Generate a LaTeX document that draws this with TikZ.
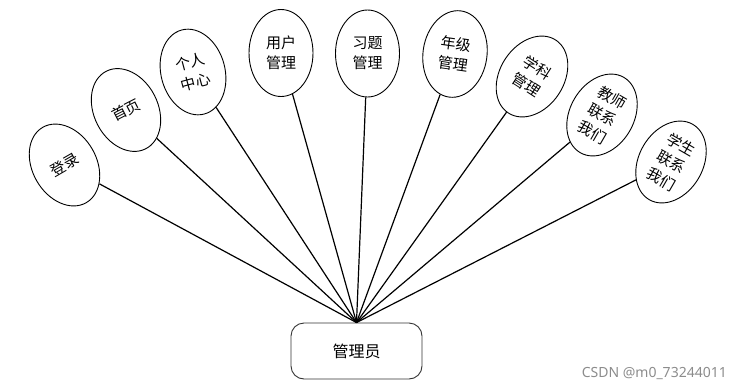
\documentclass[tikz,border=0pt]{standalone}
\usepackage{fontspec}
\newfontfamily\cjk{Noto Sans CJK SC}
\usetikzlibrary{shapes.geometric}
\begin{document}
\begin{tikzpicture}[x=1pt,y=-1pt,
  leaf/.style={ellipse, draw=black, line width=0.9pt, minimum width=64pt, minimum height=87pt,
    inner sep=0pt, align=center, font=\cjk\fontsize{15}{20}\selectfont},
  hub/.style={rectangle, rounded corners=13pt, draw=black!80, line width=0.9pt,
    minimum width=131pt, minimum height=56pt, font=\cjk\fontsize{16}{19}\selectfont},
  link/.style={line width=1.2pt, black}]
\useasboundingbox (0,0) rectangle (741,391);
\node[hub] (root) at (356.5,351) {管理员};
\node[leaf, rotate=30] (n1) at (64.5,165) {登录};
\node[leaf, rotate=27] (n2) at (126,110) {首页};
\node[leaf, rotate=15] (n3) at (193,72) {个人\\中心};
\node[leaf] (n4) at (281,53) {用户\\管理};
\node[leaf] (n5) at (367.5,53.5) {习题\\管理};
\node[leaf, rotate=-8] (n6) at (455,54) {年级\\管理};
\node[leaf, rotate=-33] (n7) at (532,76.5) {学科\\管理};
\node[leaf, rotate=-30] (n8) at (602,115) {教师\\联系\\我们};
\node[leaf, rotate=-30] (n9) at (671,162) {学生\\联系\\我们};
\foreach \n in {n1,n2,n3,n4,n5,n6,n7,n8,n9}
  \draw[link] (root.north) -- (\n);
\node[text=black!45, anchor=east, font=\fontspec{Noto Sans}\fontsize{14}{16}\selectfont, inner sep=0pt] (wm) at (727,373) {CSDN @m0\_73244011};
\end{tikzpicture}
\end{document}
